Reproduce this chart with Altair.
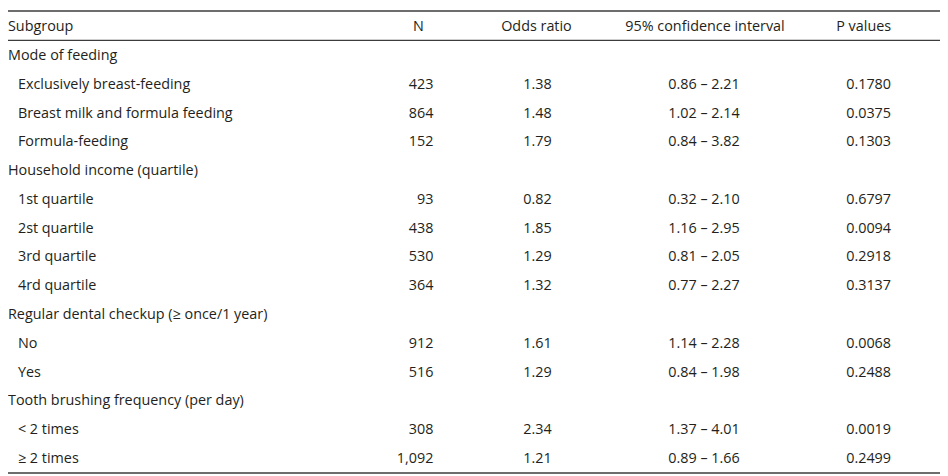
import altair as alt
import pandas as pd

groups = [
    "Mode of feeding",
    "Household income (quartile)",
    "Regular dental checkup (\u2265 once/1 year)",
    "Tooth brushing frequency (per day)",
]
group_sizes = [3, 4, 2, 2]
items = [
    "Exclusively breast-feeding", "Breast milk and formula feeding", "Formula-feeding",
    "1st quartile", "2st quartile", "3rd quartile", "4rd quartile",
    "No", "Yes",
    "< 2 times", "\u2265 2 times",
]
n_values = [423, 864, 152, 93, 438, 530, 364, 912, 516, 308, 1092]
odds_ratio = [1.38, 1.48, 1.79, 0.82, 1.85, 1.29, 1.32, 1.61, 1.29, 2.34, 1.21]
ci_low = [0.86, 1.02, 0.84, 0.32, 1.16, 0.81, 0.77, 1.14, 0.84, 1.37, 0.89]
ci_high = [2.21, 2.14, 3.82, 2.10, 2.95, 2.05, 2.27, 2.28, 1.98, 4.01, 1.66]
p_values = ["0.1780", "0.0375", "0.1303", "0.6797", "0.0094", "0.2918", "0.3137",
            "0.0068", "0.2488", "0.0019", "0.2499"]
headers = ["Subgroup", "N", "Odds ratio", "95% confidence interval", "P values"]

# ---- build row tables ----
group_rows, item_rows = [], []
r, k = 0, 0
for g, size in zip(groups, group_sizes):
    group_rows.append({"row": r, "label": g})
    r += 1
    for _ in range(size):
        item_rows.append({
            "row": r,
            "label": items[k],
            "n": f"{n_values[k]:,}",
            "odds": f"{odds_ratio[k]:.2f}",
            "ci": f"{ci_low[k]:.2f} \u2013 {ci_high[k]:.2f}",
            "p": p_values[k],
        })
        r += 1
        k += 1
n_rows = r

gdf = pd.DataFrame(group_rows)
idf = pd.DataFrame(item_rows)
hdf = pd.DataFrame([{"row": -1, "h": h} for h in headers])
rules = pd.DataFrame({"pos": [-1.565, -0.544, n_rows - 0.51],
                      "w": [1.5, 1.1, 1.5]})

W, H = 940, 468
yscale = alt.Scale(domain=[n_rows - 0.478, -1.6], range=[H, 0], nice=False, zero=False)
y_enc = alt.Y("row:Q", scale=yscale, axis=None)

FONT = "Open Sans"
FS = 14.5
COLOR = "#231f20"


def txt(df, field, x, align):
    return alt.Chart(df).mark_text(
        align=align, baseline="middle", font=FONT, fontSize=FS, color=COLOR
    ).encode(y=y_enc, x=alt.value(x), text=f"{field}:N")


layers = [
    alt.Chart(rules).mark_rule(color="#3c3c3c").encode(
        y=alt.Y("pos:Q", scale=yscale, axis=None),
        x=alt.value(0), x2=alt.value(W),
        strokeWidth=alt.StrokeWidth("w:Q", scale=None, legend=None),
    ),
    txt(gdf, "label", 0, "left"),
    txt(idf, "label", 10, "left"),
    txt(idf, "n", 429, "right"),
    txt(idf, "odds", 534, "center"),
    txt(idf, "ci", 702, "center"),
    txt(idf, "p", 868, "center"),
]
hx = [(0, "left"), (414, "center"), (533, "center"), (703, "center"), (863, "center")]
for i, (x, a) in enumerate(hx):
    layers.append(txt(hdf[hdf.h == headers[i]], "h", x, a))

chart = alt.layer(*layers).properties(
    width=W, height=H, padding=0, autosize=alt.AutoSizeParams(type="none")
).configure_view(stroke=None)

chart.save("out.html", embed_options={"renderer": "svg", "actions": False})
